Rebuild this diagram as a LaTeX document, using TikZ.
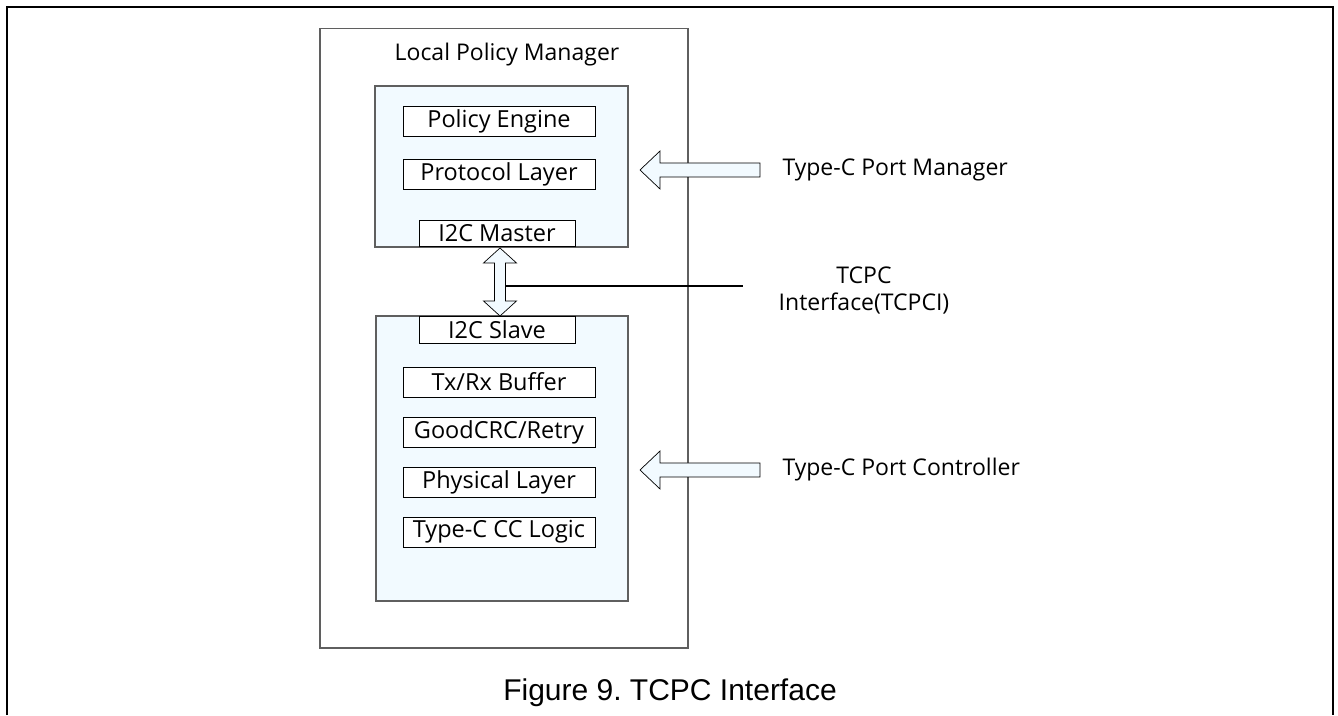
\documentclass[tikz,border=0pt]{standalone}
\usepackage{fontspec}
\setmainfont{Open Sans}
\newfontfamily\capfont{Liberation Sans}
\usetikzlibrary{positioning}
\definecolor{paleblue}{RGB}{242,250,255}
\definecolor{grpgray}{RGB}{95,95,95}

\begin{document}
\begin{tikzpicture}[x=1pt,y=1pt,
  grp/.style={draw=grpgray,line width=1.3pt,fill=paleblue,inner sep=0pt},
  blk/.style={draw,line width=0.9pt,fill=white,inner sep=0pt,minimum width=192pt,minimum height=30pt,font=\fontsize{23.5}{27}\selectfont},
  lbl/.style={font=\fontsize{23}{27}\selectfont},
  bigarrow/.style={draw,line width=0.7pt,fill=paleblue}]
\useasboundingbox (0,0) rectangle (1338,715);
% frame
\draw[line width=2.6pt] (7,0) -- (7,708) -- (1333,708) -- (1333,0);
% local policy manager
\node[draw=grpgray,line width=1.3pt,inner sep=0pt,minimum width=368pt,minimum height=619.5pt] (lpm) at (504,376.75) {};
\node[lbl] (lpmname) at (507,660) {Local Policy Manager};
% upper group
\node[grp,minimum width=253pt,minimum height=161pt] (pegrp) at (501.5,548.5) {};
\node[blk] (pe) at (499,594) {Policy Engine};
\node[blk] (prl) at (499,541) {Protocol Layer};
\node[blk,minimum width=156pt,minimum height=26pt,anchor=south] (mst) at (497,468) {I2C Master};
% lower group
\node[grp,minimum width=252pt,minimum height=285pt] (tcgrp) at (502,256.5) {};
\node[blk,minimum width=156pt,minimum height=27pt,anchor=north] (slv) at (497,399) {I2C Slave};
\node[blk] (buf) at (499,333) {Tx/Rx Buffer};
\node[blk] (crc) at (499,283) {GoodCRC/Retry};
\node[blk] (phy) at (499,233) {Physical Layer};
\node[blk] (ccl) at (499,183) {Type-C CC Logic};
% i2c link
\draw[bigarrow] (mst.south) ++(3,-1) -- ++(16.5,-15) -- ++(-11,0) -- ++(0,-38)
  -- ++(11,0) -- ++(-16.5,-15) -- ++(-16.5,15) -- ++(11,0) -- ++(0,38)
  -- ++(-11,0) -- cycle;
\coordinate (tap) at (505.5,429);
\coordinate (busend) at (743,429);
\draw[line width=2.4pt] (tap) -- (busend);
\node[lbl,align=center] (tcpci) at (864,425) {TCPC\\Interface(TCPCI)};
% side labels
\node[lbl,anchor=west] (pm) at (779,545) {Type-C Port Manager};
\node[lbl,anchor=west] (pc) at (779,245) {Type-C Port Controller};
\draw[bigarrow] (pm.west) ++(-19,7) -- ++(-100,0) -- ++(0,12) -- ++(-20,-19)
  -- ++(20,-19) -- ++(0,12) -- ++(100,0) -- cycle;
\draw[bigarrow] (pc.west) ++(-19,7) -- ++(-100,0) -- ++(0,12) -- ++(-20,-19)
  -- ++(20,-19) -- ++(0,12) -- ++(100,0) -- cycle;
% caption
\node[font=\capfont\fontsize{30}{33}\selectfont] (cap) at (670,22) {Figure 9.\ TCPC Interface};
\end{tikzpicture}
\end{document}
